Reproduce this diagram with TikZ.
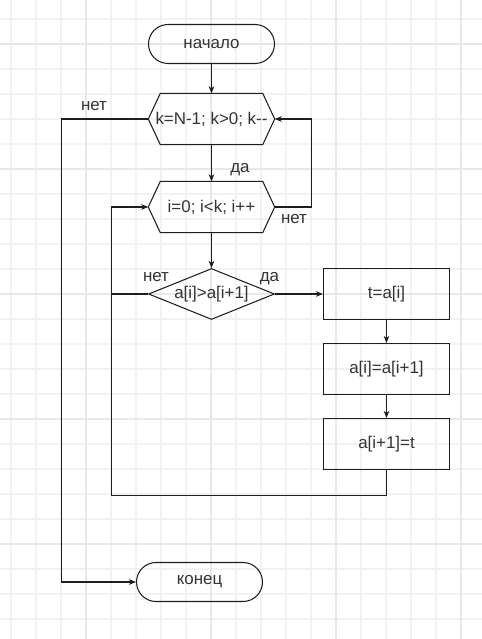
\documentclass[tikz,border=0pt]{standalone}
\usepackage{fontspec}
\setmainfont{Liberation Sans}
\usetikzlibrary{shapes.geometric,arrows.meta}
\definecolor{ink}{HTML}{333333}
\definecolor{stroke}{HTML}{1E1E1E}
\definecolor{gridminor}{HTML}{F2F2F2}
\definecolor{gridmajor}{HTML}{E8E8E8}

\begin{document}
\begin{tikzpicture}[x=1bp,y=-1bp,
  every node/.style={font=\fontsize{17}{20}\selectfont, text=ink},
  shape line/.style={draw=stroke, line width=1.05bp},
  terminal/.style={shape line, rectangle, rounded corners=19.5bp,
    minimum width=126bp, minimum height=39bp, inner sep=0pt},
  loopbox/.style={rectangle, minimum width=126bp, minimum height=51bp, inner sep=0pt},
  decision/.style={shape line, diamond, aspect=2.47,
    minimum width=126bp, minimum height=51bp, inner sep=0pt},
  process/.style={shape line, rectangle, minimum width=126bp,
    minimum height=51bp, inner sep=0pt},
  flow/.style={draw=stroke, line width=1.05bp,
    -{Stealth[length=7bp,width=5.5bp,inset=2bp]}},
  link/.style={draw=stroke, line width=1.05bp},
  tag/.style={inner sep=0pt}
]
% page and background grid
\useasboundingbox (0,0) rectangle (482,639);
\fill[white] (0,0) rectangle (482,639);
\foreach \gx in {11,36,...,486} \draw[gridminor, line width=1.2bp] (\gx,0) -- (\gx,639);
\foreach \gy in {19,44,...,639} \draw[gridminor, line width=1.2bp] (0,\gy) -- (482,\gy);
\foreach \gx in {86,211,336,461} \draw[gridmajor, line width=1.2bp] (\gx,0) -- (\gx,639);
\foreach \gy in {44,169,294,419,544} \draw[gridmajor, line width=1.2bp] (0,\gy) -- (482,\gy);

% the flowchart, set half a unit off so thin strokes stay crisp
\begin{scope}[shift={(0.5,0.5)}]
% blocks
\node[terminal] (start) at (211,43.5) {начало};
\node[loopbox] (outer) at (211,118.5) {k=N-1; k>0; k-{}-};
\node[loopbox] (inner) at (211,206.5) {i=0; i<k; i++};
\node[decision] (cmp) at (211,293.5) {a[i]>a[i+1]};
\node[process] (s1) at (386,293.5) {t=a[i]};
\node[process] (s2) at (386,368.5) {a[i]=a[i+1]};
\node[process] (s3) at (386,443.5) {a[i+1]=t};
\node[terminal] (stop) at (199,581.5) {конец};

% loop headers as hexagons
\foreach \n in {outer,inner}
  \draw[shape line] (\n.west) -- ([xshift=12bp]\n.north west)
    -- ([xshift=-12bp]\n.north east) -- (\n.east)
    -- ([xshift=-12bp]\n.south east) -- ([xshift=12bp]\n.south west) -- cycle;

% connectors
\coordinate (loopin) at ([xshift=-37bp]inner.west);
\draw[flow] (start.south) -- (outer.north);
\draw[flow] (outer.south) -- (inner.north);
\draw[flow] (inner.south) -- (cmp.north);
\draw[flow] (cmp.east) -- (s1.west);
\draw[flow] (s1.south) -- (s2.north);
\draw[flow] (s2.south) -- (s3.north);
\draw[flow] (inner.east) -- ++(37,0) |- (outer.east);
\draw[flow] (outer.west) -- ++(-87,0) |- (stop.west);
\draw[flow] (s3.south) -- ++(0,25) -| (loopin) -- (inner.west);
\draw[link] (cmp.west) -- (cmp.west -| loopin);

% branch labels
\node[tag] (no1) at (93.5,106) {нет};
\node[tag] (yes1) at (239.5,169) {да};
\node[tag] (no2) at (293.5,218.5) {нет};
\node[tag] (no3) at (155.5,276.5) {нет};
\node[tag] (yes3) at (269,278) {да};
\end{scope}
\end{tikzpicture}
\end{document}
